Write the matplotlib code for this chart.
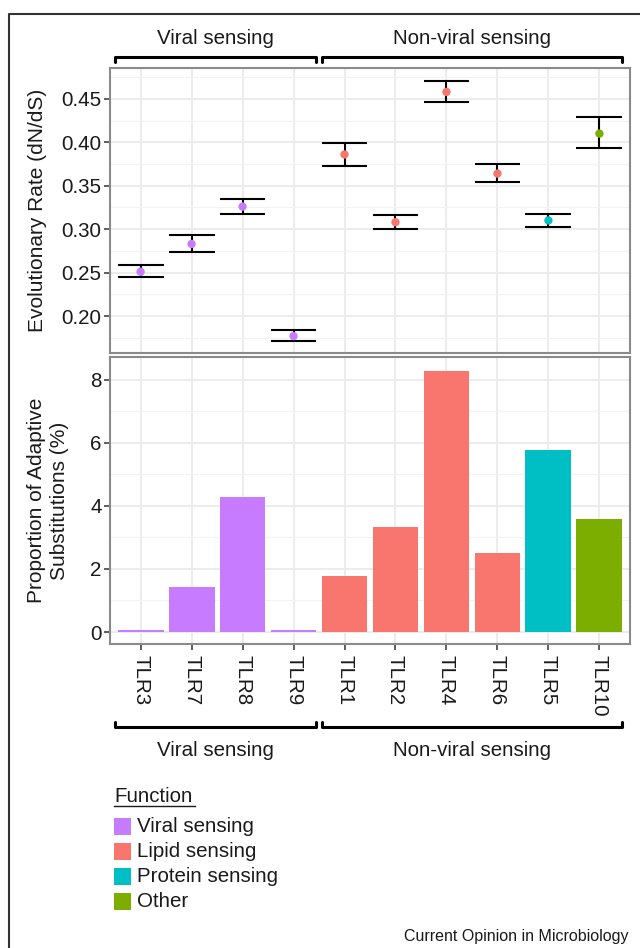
import numpy as np
import matplotlib
matplotlib.use("Agg")
import matplotlib.pyplot as plt
from matplotlib.lines import Line2D
from matplotlib.patches import Rectangle
import matplotlib.transforms as mtransforms

plt.rcParams['font.family'] = ['Liberation Sans', 'DejaVu Sans']

# ---------------- data ----------------
genes = ["TLR3", "TLR7", "TLR8", "TLR9", "TLR1", "TLR2", "TLR4", "TLR6", "TLR5", "TLR10"]
gene_function = ["Viral sensing", "Viral sensing", "Viral sensing", "Viral sensing",
                 "Lipid sensing", "Lipid sensing", "Lipid sensing", "Lipid sensing",
                 "Protein sensing", "Other"]
dnds = [0.251, 0.283, 0.326, 0.177, 0.386, 0.308, 0.458, 0.364, 0.310, 0.410]
dnds_low = [0.245, 0.274, 0.318, 0.171, 0.373, 0.300, 0.446, 0.354, 0.302, 0.393]
dnds_high = [0.259, 0.293, 0.335, 0.184, 0.399, 0.316, 0.471, 0.375, 0.318, 0.429]
adaptive = [0.05, 1.43, 4.29, 0.05, 1.78, 3.33, 8.29, 2.51, 5.78, 3.59]
functions = ["Viral sensing", "Lipid sensing", "Protein sensing", "Other"]
function_colors = ["#C77CFF", "#F8766D", "#00BFC4", "#7CAE00"]
groups = ["Viral sensing", "Non-viral sensing"]
group_spans = [(0.5, 4.45), (4.55, 10.45)]
top_ticks = [0.20, 0.25, 0.30, 0.35, 0.40, 0.45]
bottom_ticks = [0, 2, 4, 6, 8]
caption = "Current Opinion in Microbiology"

# ---------------- layout helpers ----------------
W, H = 640, 948
fig = plt.figure(figsize=(W / 100, H / 100), dpi=100)
fig.patch.set_facecolor("white")

def fx(px):
    return px / W

def fy(py):
    return 1 - py / H

cmap = dict(zip(functions, function_colors))
colors = [cmap[f] for f in gene_function]
x = np.arange(1, len(genes) + 1)

FS = 14.8
TXT = "#1a1a1a"
BORDER = "#8a8a8a"
PANEL_W = 520

def style_axes(ax, yticks, minor):
    ax.set_facecolor("white")
    for s in ax.spines.values():
        s.set_color(BORDER)
        s.set_linewidth(1.5)
    ax.set_xlim(0.4, 10.6)
    ax.set_xticks(x)
    ax.set_yticks(yticks)
    ax.set_yticks(minor, minor=True)
    ax.grid(True, which="major", color="#EBEBEB", linewidth=1.3, zorder=0)
    ax.grid(True, which="minor", axis="y", color="#F3F3F3", linewidth=0.8, zorder=0)
    ax.tick_params(axis="both", which="major", length=4, width=1.1, color="#333333",
                   labelsize=FS, labelcolor=TXT, pad=2)
    ax.tick_params(axis="y", which="minor", length=0)
    ax.set_axisbelow(True)

# ---------------- top panel ----------------
ax1 = fig.add_axes([fx(110), fy(353), fx(630) - fx(110), (353 - 68) / H])
style_axes(ax1, top_ticks, [0.175, 0.225, 0.275, 0.325, 0.375, 0.425, 0.475])
ax1.set_ylim(0.1575, 0.4855)
ax1.set_yticklabels([f"{t:.2f}" for t in top_ticks])
ax1.tick_params(axis="x", labelbottom=False, length=0)
ax1.vlines(x, dnds_low, dnds_high, color="black", linewidth=1.5, zorder=3)
ax1.hlines(dnds_low, x - 0.45, x + 0.45, color="black", linewidth=1.5, zorder=3)
ax1.hlines(dnds_high, x - 0.45, x + 0.45, color="black", linewidth=1.5, zorder=3)
ax1.scatter(x, dnds, s=36, c=colors, zorder=4, linewidths=0)
ax1.set_ylabel("Evolutionary Rate (dN/dS)", fontsize=15, color=TXT)

# ---------------- bottom panel ----------------
ax2 = fig.add_axes([fx(110), fy(644), fx(630) - fx(110), (644 - 357) / H])
style_axes(ax2, bottom_ticks, [1, 3, 5, 7])
ax2.set_ylim(-0.38, 8.72)
ax2.bar(x, adaptive, width=0.9, color=colors, zorder=3, linewidth=0)
ax2.set_xticklabels(genes, rotation=270, fontsize=FS, color=TXT)
ax2.tick_params(axis="x", pad=4)
ax2.set_ylabel("Proportion of Adaptive\nSubstitutions (%)", fontsize=15, color=TXT,
               linespacing=1.25, multialignment="center")

# y-label anchors (right edge of rotated text) in pixel space
ax1.yaxis.set_label_coords(-(110 - 47) / PANEL_W, 0.5)
ax2.yaxis.set_label_coords(-(110 - 69) / PANEL_W, 0.5)

# ---------------- brackets ----------------
def bracket(ax, y_line, y_tip, y_text):
    tr = mtransforms.blended_transform_factory(ax.transData, fig.transFigure)
    for (a, b), name in zip(group_spans, groups):
        fig.add_artist(Line2D([a, a, b, b], [fy(y_tip), fy(y_line), fy(y_line), fy(y_tip)],
                              transform=tr, color="black", linewidth=2.2,
                              solid_joinstyle="round", solid_capstyle="round"))
        fig.text((a + b) / 2, fy(y_text), name, transform=tr, ha="center", va="center",
                 fontsize=FS, color=TXT)

bracket(ax1, 57, 62, 39)
bracket(ax2, 727, 722, 750)

# ---------------- legend ----------------
fig.text(fx(114), fy(797), "Function", ha="left", va="center", fontsize=FS, color=TXT)
fig.add_artist(Line2D([fx(114), fx(195)], [fy(806), fy(806)], color=TXT, linewidth=1.0))
for i, (f, c) in enumerate(zip(functions, function_colors)):
    top = 818 + 25 * i
    fig.add_artist(Rectangle((fx(114), fy(top + 17)), 17 / W, 17 / H,
                             transform=fig.transFigure, facecolor=c, edgecolor="none"))
    fig.text(fx(137), fy(top + 8.5), f, ha="left", va="center", fontsize=FS, color=TXT)

# ---------------- caption and frame ----------------
fig.text(fx(629), fy(936), caption, ha="right", va="center", fontsize=11.5, color=TXT)
fig.add_artist(Line2D([fx(9), fx(9), fx(641)], [fy(950), fy(14), fy(14)],
                      color="#333333", linewidth=1.5))

fig.savefig("out.png", dpi=100, facecolor="white")
